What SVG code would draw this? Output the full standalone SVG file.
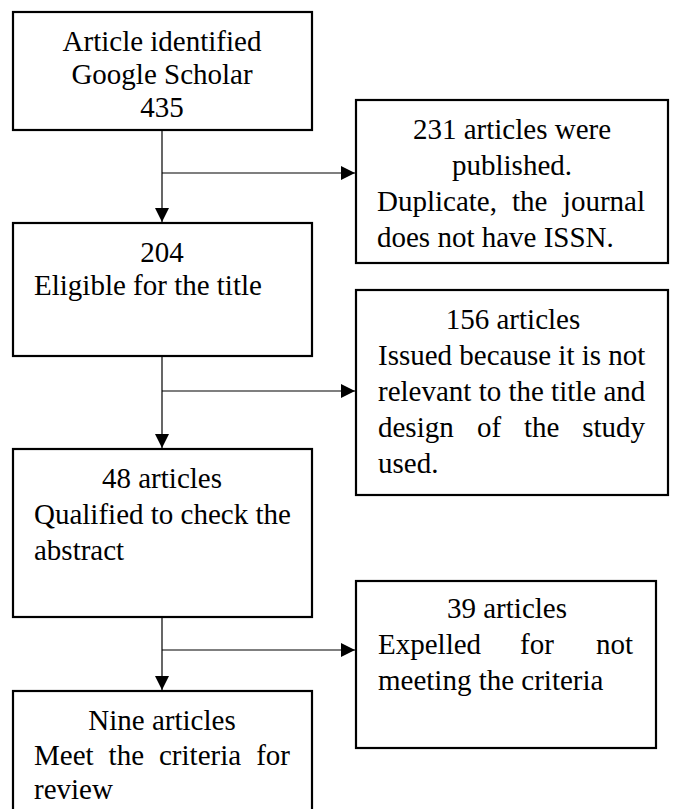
<svg xmlns="http://www.w3.org/2000/svg" width="676" height="809" viewBox="0 0 676 809">
<style>
.box{fill:#fff;stroke:#000;stroke-width:2.2}
.t{font-family:"Liberation Serif","Times New Roman",serif;font-size:29px;fill:#000}
.c{text-anchor:middle}
.e{text-anchor:end}
.ln{stroke:#000;stroke-width:1.2;fill:none}
</style>
<defs>
<marker id="ah" viewBox="0 0 14 14" refX="14" refY="7" markerWidth="14" markerHeight="14" markerUnits="userSpaceOnUse" orient="auto">
<path d="M0,0 L14,7 L0,14 Z" fill="#000"/>
</marker>
</defs>
<rect width="676" height="809" fill="#fff"/>
<g id="connectors">
<line class="ln" x1="162" y1="130" x2="162" y2="222" marker-end="url(#ah)"/>
<line class="ln" x1="162" y1="173" x2="355" y2="173" marker-end="url(#ah)"/>
<line class="ln" x1="162" y1="356" x2="162" y2="448" marker-end="url(#ah)"/>
<line class="ln" x1="162" y1="391" x2="355" y2="391" marker-end="url(#ah)"/>
<line class="ln" x1="162" y1="617" x2="162" y2="690" marker-end="url(#ah)"/>
<line class="ln" x1="162" y1="650" x2="355" y2="650" marker-end="url(#ah)"/>
</g>
<g id="identified">
<rect class="box" x="13" y="12" width="299" height="118"/>
<text class="t c" x="162" y="51">Article identified</text>
<text class="t c" x="162" y="84">Google Scholar</text>
<text class="t c" x="162" y="117">435</text>
</g>
<g id="excluded1">
<rect class="box" x="356" y="100" width="312" height="163"/>
<text class="t c" x="512" y="139">231 articles were</text>
<text class="t c" x="512" y="175">published.</text>
<text class="t" y="211"><tspan x="377">Duplicate,</tspan><tspan x="512">the</tspan><tspan x="645" text-anchor="end">journal</tspan></text>
<text class="t" x="377" y="247">does not have ISSN.</text>
</g>
<g id="eligible">
<rect class="box" x="13" y="223" width="299" height="133"/>
<text class="t c" x="162" y="262">204</text>
<text class="t" x="34" y="295">Eligible for the title</text>
</g>
<g id="excluded2">
<rect class="box" x="356" y="290" width="312" height="205"/>
<text class="t c" x="513" y="329">156 articles</text>
<text class="t" x="378" y="365">Issued because it is not</text>
<text class="t" x="378" y="401">relevant to the title and</text>
<text class="t" y="437"><tspan x="378">design</tspan><tspan x="477">of</tspan><tspan x="524">the</tspan><tspan x="645" text-anchor="end">study</tspan></text>
<text class="t" x="378" y="473">used.</text>
</g>
<g id="abstract">
<rect class="box" x="13" y="449" width="299" height="168"/>
<text class="t c" x="162" y="488">48 articles</text>
<text class="t" x="34" y="524">Qualified to check the</text>
<text class="t" x="34" y="560">abstract</text>
</g>
<g id="excluded3">
<rect class="box" x="356" y="581" width="300" height="167"/>
<text class="t c" x="507" y="618">39 articles</text>
<text class="t" y="654"><tspan x="378">Expelled</tspan><tspan x="520">for</tspan><tspan x="633" text-anchor="end">not</tspan></text>
<text class="t" x="378" y="690">meeting the criteria</text>
</g>
<g id="included">
<rect class="box" x="13" y="691" width="299" height="140"/>
<text class="t c" x="162" y="730">Nine articles</text>
<text class="t" y="765"><tspan x="34">Meet</tspan><tspan x="108.6">the</tspan><tspan x="159">criteria</tspan><tspan x="290" text-anchor="end">for</tspan></text>
<text class="t" x="34" y="799">review</text>
</g>
</svg>
